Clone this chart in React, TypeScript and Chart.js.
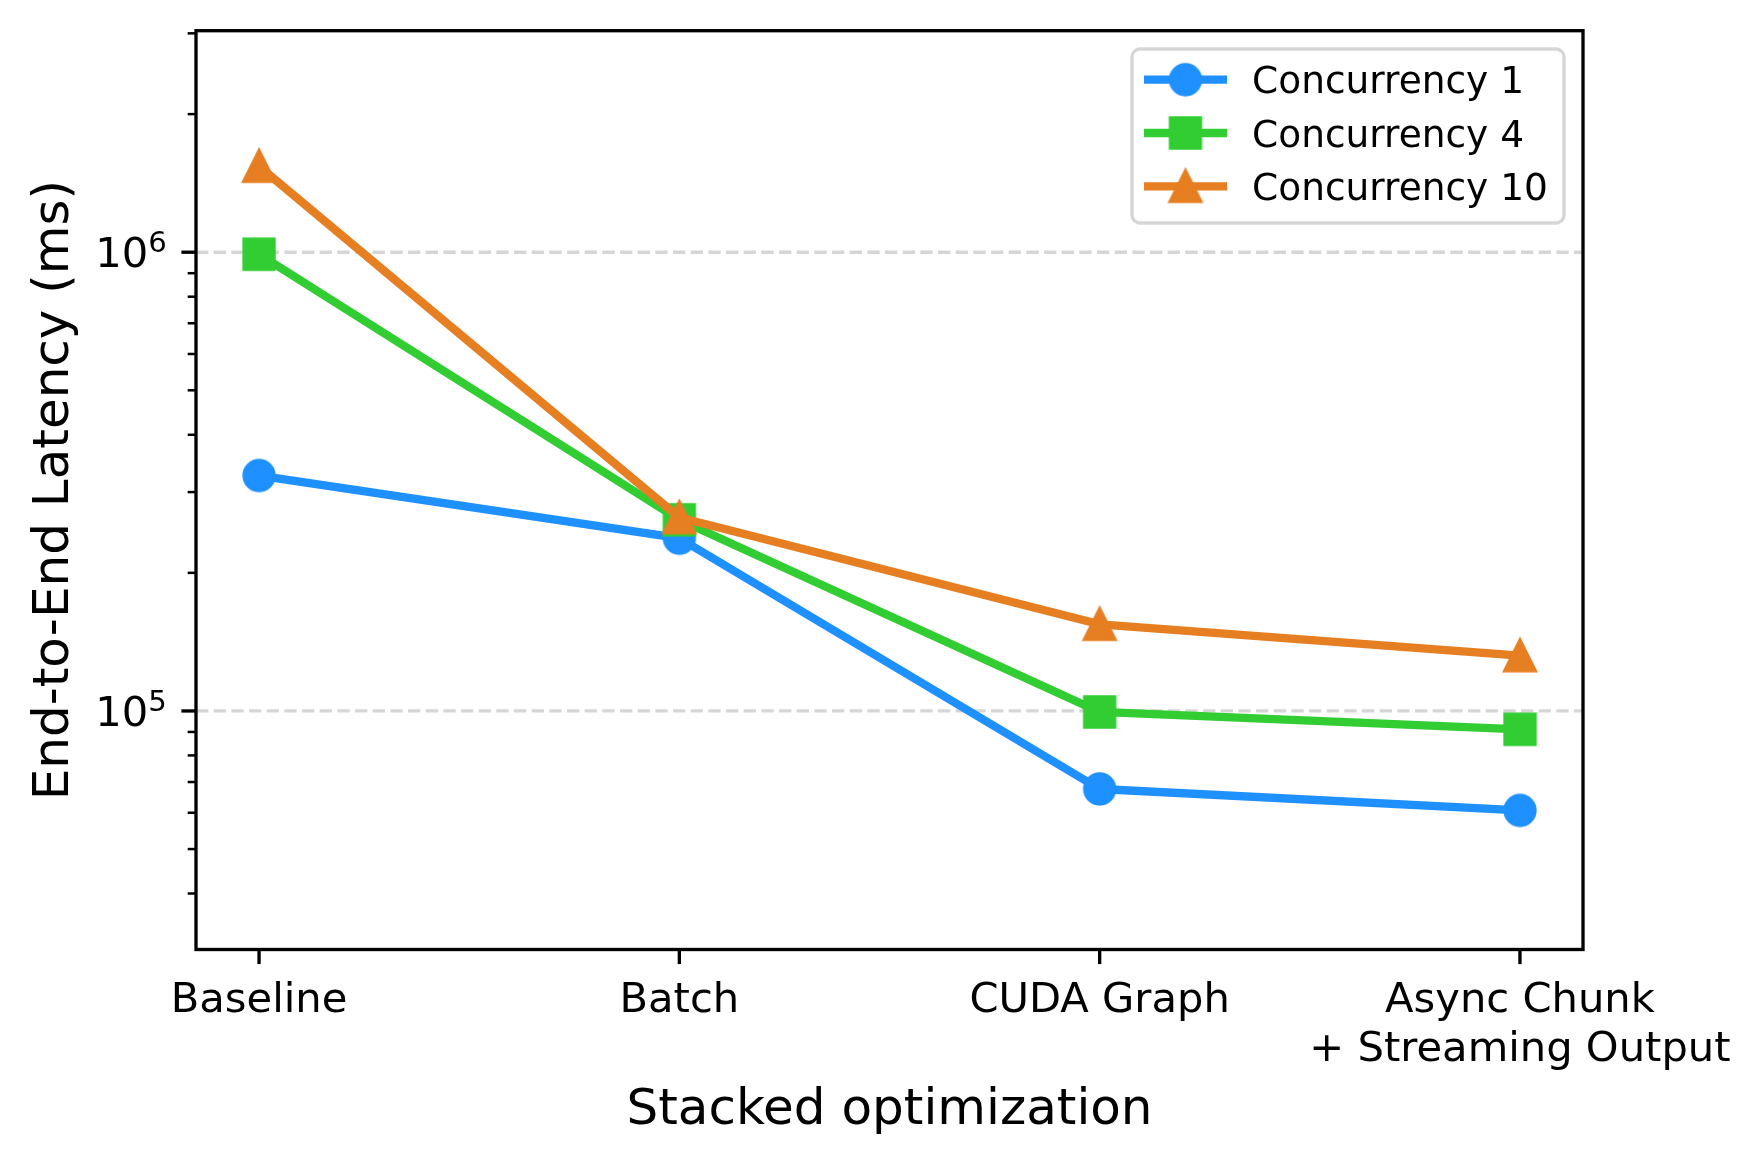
import React, { useEffect, useRef } from "react";
import { Chart, registerables } from "chart.js";

Chart.register(...registerables);

// ---- data ----
const categories = ["Baseline", "Batch", "CUDA Graph", "Async Chunk\n+ Streaming Output"];
const seriesNames = ["Concurrency 1", "Concurrency 4", "Concurrency 10"];
const concurrency1 = [3.26e5, 2.38e5, 6.76e4, 6.07e4];
const concurrency4 = [9.9e5, 2.61e5, 9.95e4, 9.12e4];
const concurrency10 = [1.54e6, 2.64e5, 1.545e5, 1.32e5];
const seriesColors = ["#1e90ff", "#32cd32", "#e67e22"];
const seriesMarkers = ["circle", "square", "triangle"];
const yMajorTicks = [1e5, 1e6];
const yRange = [3.02e4, 3.04e6];
const xTitle = "Stacked optimization";
const yTitle = "End-to-End Latency (ms)";

// ---- styling (300 dpi points -> px) ----
const PT = 300 / 72;
const FONT = "'DejaVu Sans'";
const TICK_MAJOR = 3.5 * PT;
const TICK_MINOR = 2 * PT;
const TICK_PAD = 3.5 * PT;
const SPINE_W = 0.8 * PT;
const LINE_W = 2 * PT;
const MARKER_HALF = 3.5 * PT; // markersize 7pt
const MARKER_EDGE = 1 * PT;
const TICK_FONT = 10 * PT;
const LABEL_FONT = 12 * PT;
const LEGEND_FONT = 9 * PT;

function makeMarker(kind: string, color: string): HTMLCanvasElement {
  const size = 48;
  const c = document.createElement("canvas");
  c.width = size;
  c.height = size;
  const ctx = c.getContext("2d")!;
  ctx.translate(size / 2, size / 2);
  ctx.fillStyle = color;
  ctx.strokeStyle = color;
  ctx.lineWidth = MARKER_EDGE;
  ctx.lineJoin = "miter";
  ctx.beginPath();
  const h = MARKER_HALF;
  if (kind === "circle") {
    ctx.arc(0, 0, h, 0, Math.PI * 2);
  } else if (kind === "square") {
    ctx.rect(-h, -h, 2 * h, 2 * h);
  } else {
    ctx.moveTo(0, -h);
    ctx.lineTo(-h, h);
    ctx.lineTo(h, h);
    ctx.closePath();
  }
  ctx.fill();
  ctx.stroke();
  return c;
}

const axesPlugin = {
  id: "mplAxes",
  beforeDatasetsDraw(chart: any) {
    const { ctx, chartArea } = chart;
    const y = chart.scales.y;
    ctx.save();
    ctx.strokeStyle = "#d6d6d6";
    ctx.lineWidth = 0.8 * PT;
    ctx.setLineDash([3.7 * 0.8 * PT, 1.6 * 0.8 * PT]);
    for (const v of yMajorTicks) {
      const py = y.getPixelForValue(v);
      ctx.beginPath();
      ctx.moveTo(chartArea.left, py);
      ctx.lineTo(chartArea.right, py);
      ctx.stroke();
    }
    ctx.restore();
  },
  afterDatasetsDraw(chart: any) {
    const { ctx, chartArea } = chart;
    const x = chart.scales.x;
    const y = chart.scales.y;
    const { left, right, top, bottom } = chartArea;
    ctx.save();
    ctx.strokeStyle = "#000";
    ctx.fillStyle = "#000";
    ctx.lineWidth = SPINE_W;
    ctx.setLineDash([]);
    ctx.strokeRect(left, top, right - left, bottom - top);

    // x ticks and their labels
    ctx.font = `${TICK_FONT}px ${FONT}`;
    ctx.textAlign = "center";
    ctx.textBaseline = "alphabetic";
    categories.forEach((label, i) => {
      const px = x.getPixelForValue(i);
      ctx.lineWidth = SPINE_W;
      ctx.beginPath();
      ctx.moveTo(px, bottom);
      ctx.lineTo(px, bottom + TICK_MAJOR);
      ctx.stroke();
      label.split("\n").forEach((line, k) => {
        ctx.fillText(line, px, bottom + 62.2 + k * 49);
      });
    });

    // y ticks (major + minor, log scale)
    const lo = Math.floor(Math.log10(yRange[0]));
    const hi = Math.ceil(Math.log10(yRange[1]));
    for (let e = lo; e <= hi; e++) {
      for (let m = 1; m <= 9; m++) {
        const v = m * Math.pow(10, e);
        if (v < yRange[0] || v > yRange[1]) continue;
        const py = y.getPixelForValue(v);
        const major = m === 1;
        ctx.lineWidth = major ? SPINE_W : 0.6 * PT;
        ctx.beginPath();
        ctx.moveTo(left, py);
        ctx.lineTo(left - (major ? TICK_MAJOR : TICK_MINOR), py);
        ctx.stroke();
      }
    }

    // y tick labels as 10^n
    const supSize = 0.7 * TICK_FONT;
    ctx.textAlign = "left";
    const rightEdge = left - TICK_MAJOR - TICK_PAD;
    for (const v of yMajorTicks) {
      const py = y.getPixelForValue(v);
      const sup = String(Math.round(Math.log10(v)));
      ctx.font = `${supSize}px ${FONT}`;
      const supW = ctx.measureText(sup).width;
      ctx.font = `${TICK_FONT}px ${FONT}`;
      const baseW = ctx.measureText("10").width;
      const baseY = py + 0.365 * TICK_FONT;
      ctx.fillText("10", rightEdge - supW - baseW, baseY);
      ctx.font = `${supSize}px ${FONT}`;
      ctx.fillText(sup, rightEdge - supW, baseY - 15.4);
    }

    // axis titles
    ctx.font = `${LABEL_FONT}px ${FONT}`;
    ctx.textAlign = "center";
    ctx.fillText(xTitle, (left + right) / 2, 1124);
    ctx.translate(68.3, (top + bottom) / 2);
    ctx.rotate(-Math.PI / 2);
    ctx.fillText(yTitle, 0, 0);
    ctx.restore();
  },
};

const legendPlugin = {
  id: "mplLegend",
  afterDraw(chart: any) {
    const { ctx } = chart;
    const box = { x: 1132, y: 49, w: 432, h: 174 };
    ctx.save();
    ctx.beginPath();
    ctx.roundRect(box.x, box.y, box.w, box.h, 8);
    ctx.fillStyle = "rgba(255,255,255,0.8)";
    ctx.fill();
    ctx.strokeStyle = "rgba(204,204,204,0.8)";
    ctx.lineWidth = 0.8 * PT;
    ctx.stroke();

    const x0 = 1144;
    const x1 = 1227;
    chart.data.datasets.forEach((ds: any, i: number) => {
      const ry = 79.7 + i * 53.3;
      ctx.strokeStyle = ds.borderColor;
      ctx.lineWidth = LINE_W;
      ctx.lineCap = "butt";
      ctx.beginPath();
      ctx.moveTo(x0, ry);
      ctx.lineTo(x1, ry);
      ctx.stroke();
      const img = ds.pointStyle as HTMLCanvasElement;
      ctx.drawImage(img, (x0 + x1) / 2 - img.width / 2, ry - img.height / 2);
      ctx.fillStyle = "#000";
      ctx.font = `${LEGEND_FONT}px ${FONT}`;
      ctx.textAlign = "left";
      ctx.textBaseline = "alphabetic";
      ctx.fillText(ds.label, 1252, ry + 0.365 * LEGEND_FONT);
    });
    ctx.restore();
  },
};

export default function App() {
  const ref = useRef<HTMLCanvasElement | null>(null);

  useEffect(() => {
    if (!ref.current) return;
    Chart.defaults.font.family = FONT;
    Chart.defaults.color = "#000";

    const series = [concurrency1, concurrency4, concurrency10];
    const datasets = series.map((vals, i) => ({
      label: seriesNames[i],
      data: vals.map((v, k) => ({ x: k, y: v })),
      borderColor: seriesColors[i],
      backgroundColor: seriesColors[i],
      borderWidth: LINE_W,
      borderJoinStyle: "round" as const,
      pointStyle: makeMarker(seriesMarkers[i], seriesColors[i]),
      pointRadius: 16,
      pointBorderWidth: 0,
      order: series.length - 1 - i,
      tension: 0,
      clip: false as const,
    }));

    const chart = new Chart(ref.current, {
      type: "line",
      data: { datasets },
      options: {
        responsive: false,
        animation: false,
        devicePixelRatio: 1,
        events: [],
        layout: { padding: { top: 30.7, right: 177, bottom: 0, left: 0 } },
        plugins: { legend: { display: false }, tooltip: { enabled: false } },
        scales: {
          x: {
            type: "linear",
            min: -0.15,
            max: 3.15,
            grid: { display: false },
            border: { display: false },
            ticks: { display: false, stepSize: 1 },
            afterFit: (s: any) => {
              s.height = 214.5;
            },
          },
          y: {
            type: "logarithmic",
            min: yRange[0],
            max: yRange[1],
            grid: { display: false },
            border: { display: false },
            ticks: { display: false },
            afterFit: (s: any) => {
              s.width = 196;
            },
          },
        },
      } as any,
      plugins: [axesPlugin, legendPlugin],
    });
    return () => chart.destroy();
  }, []);

  return (
    <div style={{ position: "absolute", left: 0, top: 0, width: 1760, height: 1164, background: "#fff" }}>
      <canvas ref={ref} width={1760} height={1164} style={{ display: "block" }} />
    </div>
  );
}
